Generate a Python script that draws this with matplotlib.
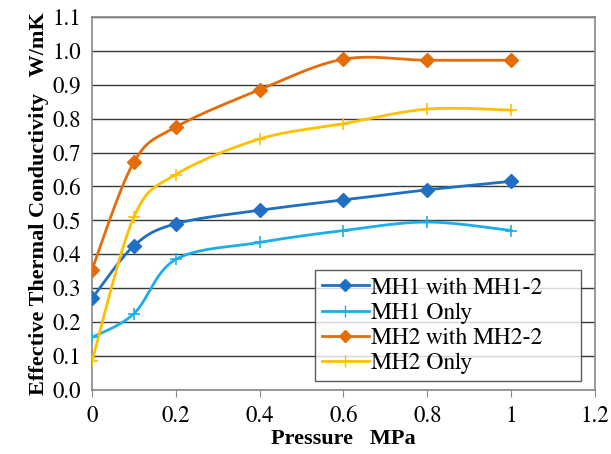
import numpy as np
import matplotlib
matplotlib.use("Agg")
import matplotlib.pyplot as plt
from matplotlib import font_manager

# ==========================================================
# DONNÉES
# ==========================================================

pressure = [0, 0.1, 0.2, 0.4, 0.6, 0.8, 1.0]

mh1_with = [0.27, 0.425, 0.49, 0.53, 0.56, 0.59, 0.615]
mh1_only = [0.155, 0.225, 0.385, 0.435, 0.47, 0.495, 0.47]
mh2_with = [0.355, 0.672, 0.775, 0.885, 0.975, 0.972, 0.972]
mh2_only = [0.085, 0.51, 0.635, 0.74, 0.785, 0.828, 0.825]

labels = ["MH1 with MH1-2", "MH1 Only", "MH2 with MH2-2", "MH2 Only"]
colors = ["#1F6FC5", "#1AAEEB", "#E46C0A", "#FFC000"]
markers = ["D", "+", "D", "+"]

x_ticks = [0, 0.2, 0.4, 0.6, 0.8, 1.0, 1.2]
x_tick_labels = ["0", "0.2", "0.4", "0.6", "0.8", "1", "1.2"]
y_ticks = [0.0, 0.1, 0.2, 0.3, 0.4, 0.5, 0.6, 0.7, 0.8, 0.9, 1.0, 1.1]


# ==========================================================
# LISSAGE (courbe lissée façon tableur)
# ==========================================================

def courbe_lissee(x, y, n=40):
    x = np.asarray(x, dtype=float)
    y = np.asarray(y, dtype=float)
    px = np.concatenate([[x[0]], x, [x[-1]]])
    py = np.concatenate([[y[0]], y, [y[-1]]])
    xs, ys = [], []
    t = np.linspace(0, 1, n)
    for i in range(1, len(px) - 2):
        p0 = np.array([px[i], py[i]])
        p3 = np.array([px[i + 1], py[i + 1]])
        c1 = p0 + (np.array([px[i + 1], py[i + 1]]) - np.array([px[i - 1], py[i - 1]])) / 6
        c2 = p3 - (np.array([px[i + 2], py[i + 2]]) - np.array([px[i], py[i]])) / 6
        b = ((1 - t) ** 3)[:, None] * p0 + (3 * (1 - t) ** 2 * t)[:, None] * c1 \
            + (3 * (1 - t) * t ** 2)[:, None] * c2 + (t ** 3)[:, None] * p3
        xs.extend(b[:, 0])
        ys.extend(b[:, 1])
    return xs, ys


# ==========================================================
# FIGURE
# ==========================================================

fp_ticks = font_manager.FontProperties(family=["FreeSerif", "Liberation Serif"], size=16.5)
fp_leg = font_manager.FontProperties(family=["FreeSerif", "Liberation Serif"], size=17)
fp_label = font_manager.FontProperties(family=["Liberation Serif"], weight="bold", size=16)

fig = plt.figure(figsize=(6.11, 4.54), dpi=100)
ax = fig.add_axes([0.1506, 0.141, 0.823, 0.822])

series = [mh1_with, mh1_only, mh2_with, mh2_only]

for values, label, color, marker in zip(series, labels, colors, markers):
    xs, ys = courbe_lissee(pressure, values)
    ax.plot(xs, ys, color=color, linewidth=2, zorder=3)
    if marker == "D":
        ax.plot(pressure, values, linestyle="none", marker="D",
                markersize=7.5, color=color, zorder=4)
    else:
        ax.plot(pressure, values, linestyle="none", marker="+",
                markersize=9, markeredgewidth=1.2, color=color, zorder=4)
    ax.plot([], [], color=color, linewidth=2, marker=marker,
            markersize=6 if marker == "D" else 9, label=label)

ax.set_xlim(0, 1.2)
ax.set_ylim(0, 1.1)
ax.set_xticks(x_ticks)
ax.set_xticklabels(x_tick_labels, fontproperties=fp_ticks)
ax.set_yticks(y_ticks)
ax.set_yticklabels([f"{v:.1f}" for v in y_ticks], fontproperties=fp_ticks)
ax.tick_params(length=5, color="#888888", pad=6)
ax.tick_params(axis="y", length=0, pad=8)

ax.yaxis.grid(True, color="#3a3a3a", linewidth=1)
ax.set_axisbelow(True)
for spine in ax.spines.values():
    spine.set_color("#888888")
    spine.set_linewidth(1.2)

ax.set_xlabel("Pressure   MPa", fontproperties=fp_label, labelpad=2)
ax.set_ylabel("Effective Thermal Conductivity   W/mK", fontproperties=fp_label,
              labelpad=2)

leg = ax.legend(loc="lower left", bbox_to_anchor=(0.443, 0.024, 0.53, 0.274),
                mode="expand", prop=fp_leg, frameon=True, fancybox=False,
                borderpad=0.3, labelspacing=0.15, handlelength=2.0,
                handletextpad=0.1, borderaxespad=0)
leg.get_frame().set_edgecolor("#333333")
leg.get_frame().set_linewidth(1)

fig.savefig("out.png", dpi=100)
